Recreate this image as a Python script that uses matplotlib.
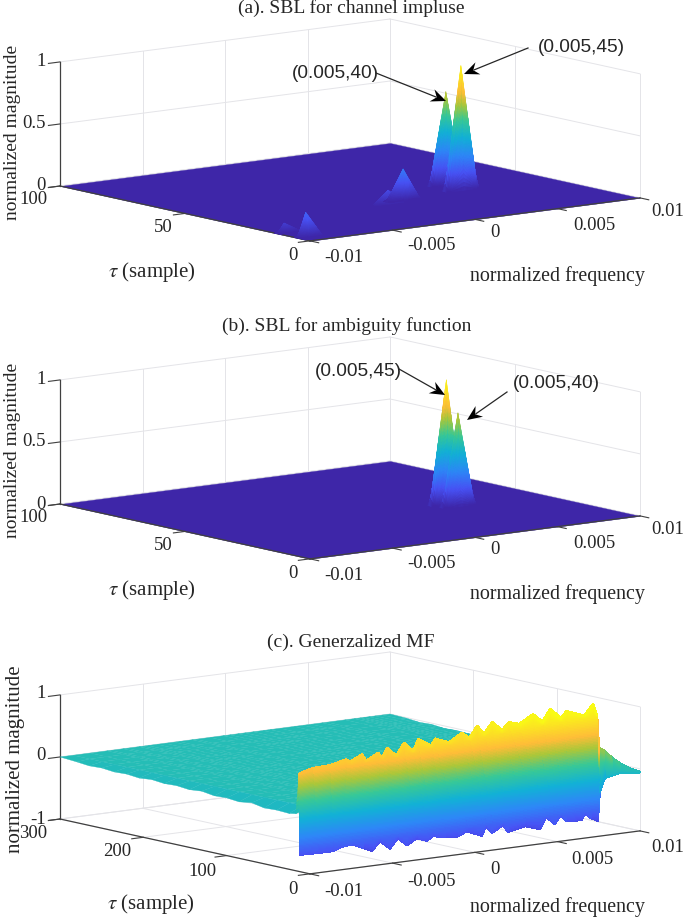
import numpy as np
import matplotlib
matplotlib.use('Agg')
import matplotlib.pyplot as plt
from matplotlib.colors import LinearSegmentedColormap
from matplotlib.patches import Polygon
from mpl_toolkits.mplot3d import proj3d

plt.rcParams['font.family'] = ['Liberation Serif', 'DejaVu Serif']
plt.rcParams['mathtext.fontset'] = 'stix'

W, H = 685, 918

freq_ticks = [-0.01, -0.005, 0, 0.005, 0.01]
freq_labels = ['-0.01', '-0.005', '0', '0.005', '0.01']
tau_ticks_ab = [0, 50, 100]
tau_ticks_c = [0, 100, 200, 300]
mag_ticks_ab = [0, 0.5, 1]
mag_ticks_c = [-1, 0, 1]

# peaks (a) and (b): frequency, delay, height
a_peak_freq = [-0.0099, -0.0096, -0.0095, -0.0008, 0.00064, 0.0049, 0.0046]
a_peak_tau = [3, 13, 5, 29.5, 33, 44, 36]
a_peak_mag = [0.07, 0.08, 0.20, 0.12, 0.25, 0.75, 1.0]
b_peak_freq = [0.0047, 0.0048]
b_peak_tau = [42.5, 38.5]
b_peak_mag = [1.0, 0.75]

# panel (c), jagged upper and lower edge of the wall
wall_tau = 12
top_freq = [-0.01, -0.00921, -0.00818, -0.00715, -0.00691, -0.00618, -0.00594, -0.00521, -0.00497,
            -0.00467, -0.00412, -0.00364, -0.00309, -0.00279, -0.002, -0.00176, -0.00091, -0.00012,
            0.0003, 0.00079, 0.00121, 0.0017, 0.0023, 0.00273, 0.00333, 0.00418, 0.00473, 0.00521,
            0.00588, 0.00618, 0.00727, 0.00782, 0.00806]
top_mag = [0.58, 0.64, 0.65, 0.71, 0.67, 0.76, 0.65, 0.75, 0.67, 0.81, 0.67, 0.86, 0.71, 0.89, 0.76,
           0.86, 0.77, 0.90, 0.80, 0.98, 0.84, 1.01, 0.86, 0.97, 0.92, 1.05, 0.91, 1.10, 0.93, 1.03,
           0.92, 1.09, 0.90]
# where the teeth start, below this the wall is smooth
top_shoulder = [0.56, 0.58, 0.60, 0.62, 0.62, 0.63, 0.63, 0.64, 0.64, 0.65, 0.65, 0.67, 0.68, 0.70, 0.72,
                0.73, 0.74, 0.75, 0.76, 0.78, 0.79, 0.80, 0.81, 0.82, 0.83, 0.84, 0.85, 0.86, 0.87, 0.88,
                0.88, 0.88, 0.88]
low_freq = [-0.01, -0.00891, -0.008, -0.00752, -0.00685, -0.00618, -0.00564, -0.00515, -0.00455,
            -0.00406, -0.00352, -0.00291, -0.0023, -0.00194, -0.00121, -0.00048, 0.00012, 0.00103,
            0.00127, 0.00164, 0.0023, 0.0026, 0.00364, 0.00455, 0.00491, 0.00545, 0.00582, 0.00612,
            0.00661, 0.00709, 0.00727, 0.00764, 0.00806]
low_mag = [-0.73, -0.74, -0.74, -0.69, -0.67, -0.75, -0.82, -0.68, -0.82, -0.67, -0.80, -0.71, -0.77,
           -0.71, -0.75, -0.77, -0.70, -0.81, -0.66, -0.78, -0.68, -0.80, -0.74, -0.82, -0.64, -0.77,
           -0.64, -0.74, -0.76, -0.76, -0.67, -0.75, -0.81]
low_shoulder = [-0.62] * 33
tail_freq = [0.00818, 0.00838, 0.00872, 0.0091, 0.00954, 0.01]
tail_tau = [12, 10, 8, 6, 3, 0]
tail_top = [0.36, 0.33, 0.21, 0.11, 0.02, -0.04]
tail_top_shoulder = [0.30, 0.25, 0.16, 0.08, 0.01, -0.04]
tail_low = [-0.35, -0.12, -0.09, -0.05, -0.06, -0.06]
tail_low_shoulder = [-0.30, -0.10, -0.08, -0.05, -0.06, -0.06]

# rest of the plate in (c), stepped edges at both ends of the frequency range
plate_tau = [25, 40, 55, 70, 85, 100, 115, 130, 145, 160, 175, 190, 205, 220, 235, 250, 265, 280, 300]
left_edge = [-0.10, -0.09, -0.10, -0.06, -0.09, -0.07, -0.08, -0.05, -0.07, -0.05, -0.06, -0.04, -0.06,
             -0.04, -0.05, -0.03, -0.04, -0.02, 0]
right_edge = [-0.05, -0.07, -0.04, -0.06, -0.03, -0.05, -0.06, -0.03, -0.05, -0.04, -0.05, -0.02, -0.04,
              -0.03, -0.04, -0.02, -0.03, -0.01, 0]

parula = LinearSegmentedColormap.from_list('parula', [
    (0.0, (0.2422, 0.1504, 0.6603)), (0.14, (0.2810, 0.3228, 0.9579)), (0.28, (0.1786, 0.5289, 0.9682)),
    (0.43, (0.0689, 0.6948, 0.8394)), (0.57, (0.2161, 0.7843, 0.5923)), (0.70, (0.6720, 0.7793, 0.2227)),
    (0.80, (0.9970, 0.7400, 0.2199)), (1.0, (0.9769, 0.9839, 0.0805))])

GRID = '#e4e4e8'
AXIS = '#404040'


def refine(a, row_steps, col_steps):
    # only so the colour runs smoothly over a facet, like shading interp
    a = np.asarray(a, dtype=float)
    r = np.concatenate([np.linspace(i, i + 1, k, endpoint=False) for i, k in enumerate(row_steps)] + [[len(row_steps)]])
    c = np.concatenate([np.linspace(i, i + 1, k, endpoint=False) for i, k in enumerate(col_steps)] + [[len(col_steps)]])
    r0 = np.minimum(r.astype(int), a.shape[0] - 2)
    c0 = np.minimum(c.astype(int), a.shape[1] - 2)
    u = (r - r0)[:, None]
    v = (c - c0)[None, :]
    r0, c0 = r0[:, None], c0[None, :]
    return (a[r0, c0] * (1 - u) * (1 - v) + a[r0 + 1, c0] * u * (1 - v)
            + a[r0, c0 + 1] * (1 - u) * v + a[r0 + 1, c0 + 1] * u * v)


def surf(ax, X, Y, Z, rows, cols, lim, order, smooth=True):
    Z = refine(Z, rows, cols)
    mean_z = (Z[:-1, :-1] + Z[1:, :-1] + Z[:-1, 1:] + Z[1:, 1:]) / 4
    colors = parula((mean_z - lim[0]) / (lim[-1] - lim[0]))
    colors = np.pad(colors, ((0, 1), (0, 1), (0, 0)), mode='edge')
    ax.plot_surface(refine(X, rows, cols), refine(Y, rows, cols), Z, rstride=1, cstride=1,
                    facecolors=colors, linewidth=0.25 if smooth else 0.6, antialiased=smooth,
                    shade=False, zorder=order)


def make_axes():
    ax = fig.add_axes([0.1, 0.1, 0.6, 0.6 * W / H], projection='3d', proj_type='ortho', computed_zorder=False)
    ax.view_init(elev=9.73, azim=-127.6)
    ax.set_box_aspect((417, 410, 126))
    ax.set_axis_off()
    ax.patch.set_visible(False)
    return ax


def draw_box(ax, taus, mags):
    f0, f1 = freq_ticks[0], freq_ticks[-1]
    t0, t1 = taus[0], taus[-1]
    z0, z1 = mags[0], mags[-1]
    for f in freq_ticks:
        ax.plot([f, f], [t1, t1], [z0, z1], color=GRID, lw=0.7, zorder=0)
        ax.plot([f, f], [t0, t1], [z0, z0], color=GRID, lw=0.7, zorder=0)
    for t in taus:
        ax.plot([f1, f1], [t, t], [z0, z1], color=GRID, lw=0.7, zorder=0)
        ax.plot([f0, f1], [t, t], [z0, z0], color=GRID, lw=0.7, zorder=0)
    for z in mags:
        ax.plot([f0, f1], [t1, t1], [z, z], color=GRID, lw=0.7, zorder=0)
        ax.plot([f1, f1], [t0, t1], [z, z], color=GRID, lw=0.7, zorder=0)
    # dark axes and their ticks
    ax.plot([f0, f0], [t1, t1], [z0, z1], color=AXIS, lw=0.9, zorder=1.5)
    ax.plot([f0, f0], [t0, t1], [z0, z0], color=AXIS, lw=0.9, zorder=1.5)
    ax.plot([f0, f1], [t0, t0], [z0, z0], color=AXIS, lw=0.9, zorder=1.5)
    for f in freq_ticks:
        ax.plot([f, f], [t0, t0 - 0.035 * (t1 - t0)], [z0, z0], color=AXIS, lw=0.8, zorder=1.5)
    for t in taus:
        ax.plot([f0, f0 - 0.0007], [t, t], [z0, z0], color=AXIS, lw=0.8, zorder=1.5)
    for z in mags:
        ax.plot([f0, f0 - 0.0007], [t1, t1], [z, z], color=AXIS, lw=0.8, zorder=1.5)
    ax.set_xlim(f0, f1)
    ax.set_ylim(t0, t1)
    ax.set_zlim(z0, z1)


def fit_axes(ax, taus, z0, left, right):
    # move the axes so the left and right floor corners land on these pixels
    ax.apply_aspect()
    f0, f1 = freq_ticks[0], freq_ticks[-1]
    M = ax.get_proj()
    xa, ya, _ = proj3d.proj_transform(f0, taus[-1], z0, M)
    xb, yb, _ = proj3d.proj_transform(f1, taus[0], z0, M)
    a = ax.transData.transform((xa, ya))
    b = ax.transData.transform((xb, yb))
    box = ax.get_position()
    x0, y0, w = box.x0 * W, box.y0 * H, box.width * W
    s = (right[0] - left[0]) / (b[0] - a[0])
    nx = left[0] - (a[0] - x0) * s
    ny = (H - left[1]) - (a[1] - y0) * s
    ax.set_position([nx / W, ny / H, w * s / W, w * s / H])
    for art in list(ax.collections) + list(ax.lines):
        art.set_clip_on(False)


def label(x, y, s, size=13.5, **kw):
    kw.setdefault('ha', 'center')
    fig.text(x / W, 1 - y / H, s, fontsize=size, va='center', color='#262626', **kw)


def arrow(start, tip):
    start, tip = np.array(start, float), np.array(tip, float)
    d = (tip - start) / np.hypot(*(tip - start))
    n = np.array([-d[1], d[0]])
    pts = np.array([tip, tip - 15 * d + 6.5 * n, tip - 10 * d, tip - 15 * d - 6.5 * n])
    pts = np.column_stack([pts[:, 0] / W, 1 - pts[:, 1] / H])
    fig.add_artist(Polygon(pts, closed=True, color='black', lw=0, transform=fig.transFigure))
    end = tip - 11 * d
    fig.add_artist(plt.Line2D([start[0] / W, end[0] / W], [1 - start[1] / H, 1 - end[1] / H],
                              color='#262626', lw=0.9, transform=fig.transFigure))


def peak_panel(freqs, taus, mags, left, right):
    ax = make_axes()
    draw_box(ax, tau_ticks_ab, mag_ticks_ab)
    X, Y = np.meshgrid(freq_ticks[::4], tau_ticks_ab[::2])
    surf(ax, X, Y, np.zeros(X.shape), [1], [1], mag_ticks_ab, 1)
    for i in range(len(freqs)):
        pf = np.clip([freqs[i] - 0.001, freqs[i], freqs[i] + 0.001], freq_ticks[0], freq_ticks[-1])
        pt = np.clip([taus[i] - 1.2, taus[i], taus[i] + 1.2], tau_ticks_ab[0], tau_ticks_ab[-1])
        X, Y = np.meshgrid(pf, pt)
        Z = np.zeros((3, 3))
        Z[1, 1] = mags[i]
        surf(ax, X, Y, Z, [28, 28], [14, 14], mag_ticks_ab, 2 + i)
    fit_axes(ax, tau_ticks_ab, 0, left, right)


fig = plt.figure(figsize=(W / 100, H / 100), dpi=100)

peak_panel(a_peak_freq, a_peak_tau, a_peak_mag, (60, 186), (640, 198))
peak_panel(b_peak_freq, b_peak_tau, b_peak_mag, (60, 504), (640, 516))

# panel (c)
ax = make_axes()
draw_box(ax, tau_ticks_c, mag_ticks_c)
col_tau = np.array([wall_tau] * len(top_freq) + tail_tau, dtype=float)
col_top = np.array(top_freq + tail_freq)
col_low = np.array(low_freq + tail_freq)
crest = np.array(top_mag + tail_top)
base = np.array(low_mag + tail_low)
crest_in = np.array(top_shoulder + tail_top_shoulder)
base_in = np.array(low_shoulder + tail_low_shoulder)

rows = [col_tau + 1, col_tau + 5] + [np.full(col_tau.shape, float(t)) for t in plate_tau]
Y = np.array(rows)
X = np.tile(col_top, (Y.shape[0], 1))
Z = np.zeros(Y.shape)
Z[0] = crest
Z[1, 0] = -0.08
Z[1, -1] = -0.05
Z[2:, 0] = left_edge
Z[2:, -1] = right_edge
surf(ax, X, Y, Z, [10] + [1] * (Y.shape[0] - 2), [1] * (len(col_top) - 1), mag_ticks_c, 2)

X = np.array([col_low, col_low, col_top, col_top])
Y = np.array([col_tau, col_tau + 0.3, col_tau + 0.7, col_tau + 1])
Z = np.array([base, base_in, crest_in, crest])
surf(ax, X, Y, Z, [8, 60, 8], [1] * (len(col_top) - 1), mag_ticks_c, 3, smooth=False)
fit_axes(ax, tau_ticks_c, -1, (60, 819), (640, 832))

# text, positions in reference pixels
label(351, 8, '(a). SBL for channel impluse', size=14)
label(347, 326, '(b). SBL for ambiguity function', size=14)
label(351, 642, '(c). Generzalized MF', size=14)

for dy, ylab in [(0, 132), (318, 450)]:
    label(13, ylab, 'normalized magnitude', size=14, rotation=90)
    label(557, 276 + dy, 'normalized frequency', size=14.4)
    label(152, 272 + dy, r'$\tau$ (sample)', size=15)
    for x, y, s in zip([33, 163, 293], [200, 228, 256], ['100', '50', '0']):
        label(x, y + dy, s)
    for x, y, s in zip([344, 431, 495, 594, 668], [258, 245, 232, 226, 212], freq_labels):
        label(x, y + dy, s)
    for y, s in zip([62, 124, 186], ['1', '0.5', '0']):
        label(46, y + dy, s, ha='right')

label(16, 759, 'normalized magnitude', size=15, rotation=90)
label(557, 907, 'normalized frequency', size=14.4)
label(151, 904, r'$\tau$ (sample)', size=15)
for x, y, s in zip([33, 117, 202, 293], [833, 852, 871, 889], ['300', '200', '100', '0']):
    label(x, y, s)
for x, y, s in zip([344, 431, 495, 592, 668], [891, 881, 869, 859, 847], freq_labels):
    label(x, y, s)
for y, s in zip([693, 756, 820], ['1', '0', '-1']):
    label(46, y, s, ha='right')

# annotations
for x, y, s in [(335, 73, '(0.005,40)'), (581, 47, '(0.005,45)'),
                (358, 371, '(0.005,45)'), (556, 383, '(0.005,40)')]:
    label(x, y, s, size=13.8, family=['Liberation Sans', 'DejaVu Sans'])
arrow((376, 73), (446, 101))
arrow((528, 48), (464, 74))
arrow((399, 369), (445, 395))
arrow((507, 392), (467, 420))

fig.savefig('out.png', dpi=100)
